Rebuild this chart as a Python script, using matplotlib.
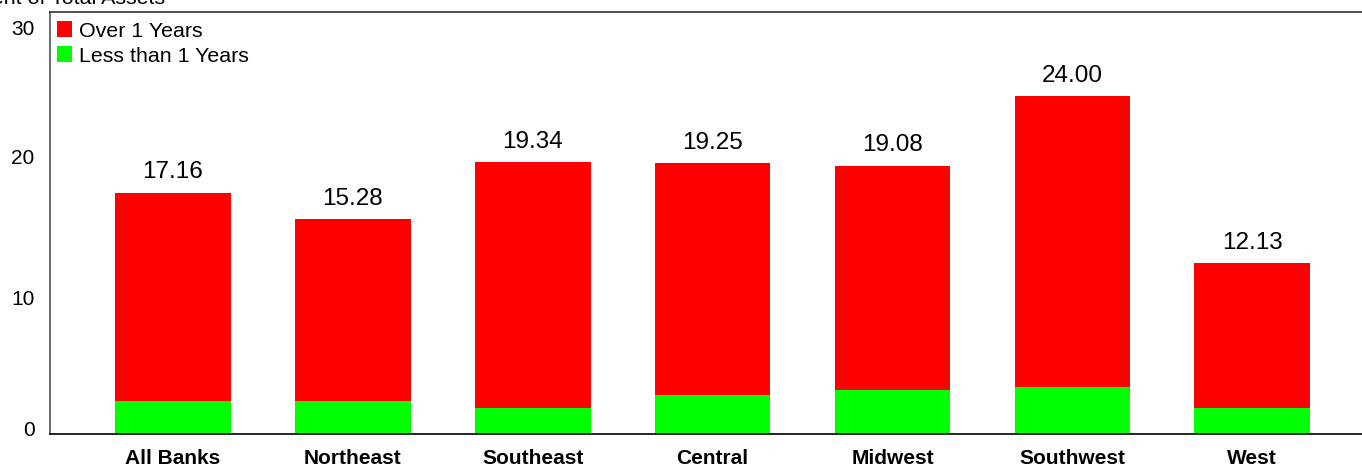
import numpy as np
import matplotlib
matplotlib.use("Agg")
import matplotlib.pyplot as plt
import matplotlib.transforms as mtransforms

plt.rcParams['font.family'] = ['Liberation Sans', 'DejaVu Sans']

regions = ["All Banks", "Northeast", "Southeast", "Central", "Midwest", "Southwest", "West"]
totals = [17.16, 15.28, 19.34, 19.25, 19.08, 24.00, 12.13]
less_than_1 = [2.37, 2.37, 1.87, 2.77, 3.13, 3.34, 1.85]
over_1 = [t - s for t, s in zip(totals, less_than_1)]
yticks = [0, 10, 20, 30]

fig = plt.figure(figsize=(13.62, 4.66), dpi=100)
ax = fig.add_axes([50 / 1362, 32 / 466, 1 - 50 / 1362, 422 / 466])

x = np.arange(len(regions))
w = 0.643
b_green = ax.bar(x, less_than_1, w, color='#00ff00', label='Less than 1 Years')
b_red = ax.bar(x, over_1, w, bottom=less_than_1, color='#ff0000', label='Over 1 Years')

for xi, t in zip(x, totals):
    ax.text(xi, t + 0.65, f"{t:.2f}", ha='center', va='bottom', fontsize=17.5)

ax.set_xlim(-0.683, 6.61)
ax.set_ylim(0, 30)
ax.set_yticks(yticks)
ax.set_yticklabels([str(v) for v in yticks], fontsize=15)
ax.set_xticks(x)
ax.set_xticklabels(regions, fontsize=15, fontweight='bold')
ax.tick_params(axis='both', length=0)
ax.tick_params(axis='x', pad=11)
ax.tick_params(axis='y', pad=11)

# the original puts its y labels a little off their gridline
shifts = [6, -4, -4, -15]  # pixels, + is up
for lab, dy in zip(ax.get_yticklabels(), shifts):
    off = mtransforms.ScaledTranslation(0, dy / 100, fig.dpi_scale_trans)
    lab.set_transform(lab.get_transform() + off)

ax.spines['right'].set_visible(False)
for s in ['left', 'top', 'bottom']:
    ax.spines[s].set_linewidth(1.2)
ax.spines['left'].set_color('#555555')
ax.spines['top'].set_color('#333333')

ax.legend([b_red, b_green], ['Over 1 Years', 'Less than 1 Years'],
          loc='upper left', bbox_to_anchor=(0.0053, 0.978), frameon=False,
          fontsize=15.4, handlelength=0.72, handleheight=0.78,
          handletextpad=0.3, labelspacing=0.25, borderpad=0, borderaxespad=0)

fig.text(165 / 1362, 1 - 4 / 466, "Percent of Total Assets", ha='right', va='baseline', fontsize=15.4)

fig.savefig("out.png", dpi=100)
